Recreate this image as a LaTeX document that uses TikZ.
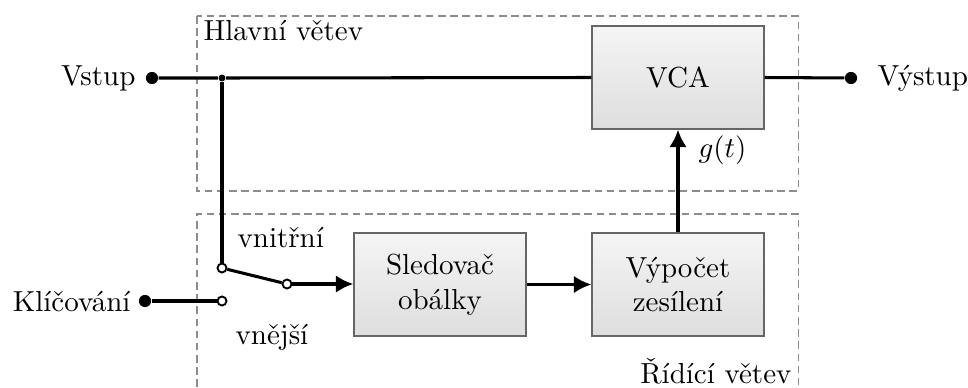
\documentclass[tikz,border=0pt]{standalone}
\usepackage{fontspec}
\usetikzlibrary{arrows.meta}
\begin{document}
\begin{tikzpicture}[x=0.3448pt, y=-0.3448pt,
  block/.style={draw=black!60, line width=0.45pt, top color=black!4, bottom color=black!13,
    minimum width=59.3pt, minimum height=35.5pt, inner sep=0pt, align=center},
  frame/.style={draw=black!45, line width=0.35pt, dash pattern=on 2.6pt off 1.6pt},
  wire/.style={line width=1.05pt},
  arr/.style={wire, -{Latex[length=6pt,width=6pt]}},
  bigdot/.style={circle, fill=black, inner sep=0pt, minimum size=4.2pt},
  smalldot/.style={circle, fill=black, inner sep=0pt, minimum size=2.4pt},
  contact/.style={circle, draw=black, line width=0.65pt, fill=white, inner sep=0pt, minimum size=3.1pt},
  lbl/.style={inner sep=0pt}]
\useasboundingbox (0,0) rectangle (968,387);
% frames
\draw[frame] (197,16) rectangle (798,191);
\draw[frame] (197,387) -- (197,214) -- (798,214) -- (798,387);
\node[lbl, anchor=base west] (hl) at (203,40) {Hlavní větev};
\node[lbl, anchor=base east] (rv) at (792,383) {Řídící větev};
% blocks
\node[block] (vca) at (678,77.5) {VCA};
\node[block] (sled) at (440,284.5) {Sledovač\\obálky};
\node[block] (vyp) at (678,284.5) {Výpočet\\zesílení};
% terminals
\node[bigdot] (in) at (152,78) {};
\node[bigdot] (out) at (851,78) {};
\node[bigdot] (key) at (145,301) {};
\node[smalldot] (jn) at (222,78) {};
\node[contact] (piv) at (222,268) {};
\node[contact] (cup) at (287,284) {};
\node[contact] (cdn) at (222,301) {};
% labels
\node[lbl, anchor=base east] (tin) at (136,85) {Vstup};
\node[lbl, anchor=base west] (tout) at (877,85) {Výstup};
\node[lbl, anchor=base east] (tkey) at (131,311) {Klíčování};
\node[lbl, anchor=base west] (tvn) at (237,247) {vnitřní};
\node[lbl, anchor=base west] (tve) at (235,344) {vnější};
\node[lbl, anchor=base west] (tg) at (698,157) {$g(t)$};
% wires
\draw[wire] (in) -- (jn) -- (vca.west);
\draw[wire] (vca.east) -- (out);
\draw[wire] (jn) -- (piv);
\draw[wire] (piv) -- (cup);
\draw[wire] (key) -- (cdn);
\draw[arr] (cup) -- (sled.west |- cup);
\draw[arr] (sled) -- (vyp);
\draw[arr] (vyp) -- (vca);
\end{tikzpicture}
\end{document}
